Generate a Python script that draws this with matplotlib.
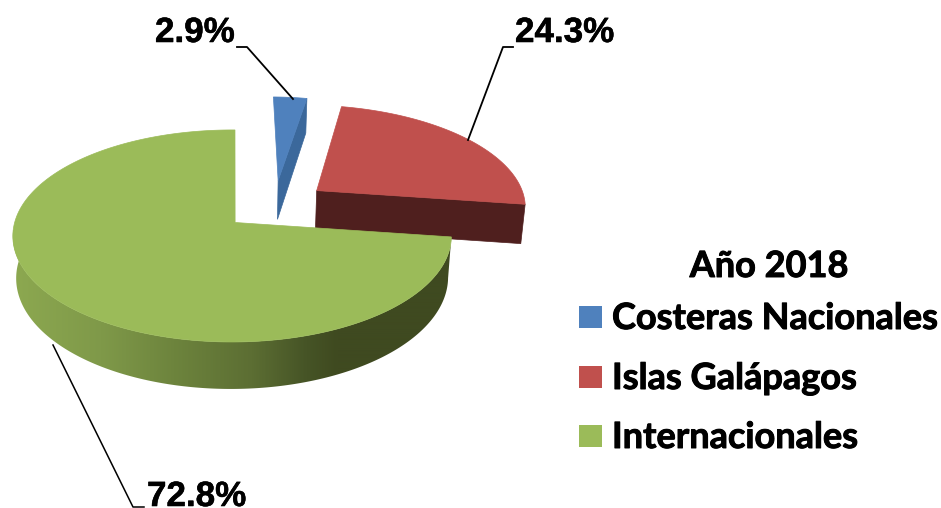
import numpy as np
import matplotlib
matplotlib.use("Agg")
import matplotlib.pyplot as plt
import matplotlib.patheffects as pe
from matplotlib.patches import Polygon
from matplotlib.colors import LinearSegmentedColormap

# --- data ---
categories = ["Costeras Nacionales", "Islas Galápagos", "Internacionales"]
shares = [2.9, 24.3, 72.8]
value_labels = ["2.9%", "24.3%", "72.8%"]
legend_title = "Año 2018"

# --- style ---
top_colors = ["#4F81BD", "#C0504D", "#9BBB59"]
face_colors = ["#3B689B", "#4F1F1E", "#3F4A20"]
offsets = [(0.213, 0.425), (0.395, 0.32), (0.005, 0.0)]
x_scale = [1.0, 1.0, 0.993]
AX, AY, A, B, K, M = 234.0, 222.5, 219.0, 104.3, 0.127, 0.0137
T0, SHRINK = 41.0, 0.985


def top_xy(X, Y):
    w = 1 + K * Y + M * X
    return AX + A * X / w, AY - B * Y / w


def bot_xy(X, Y):
    w = 1 + K * Y + M * X
    sx, sy = top_xy(X, Y)
    return AX + (sx - AX) * SHRINK, sy + T0 / w


fig = plt.figure(figsize=(9.41, 5.08), dpi=100, facecolor="white")
ax = fig.add_axes([0, 0, 1, 1])

# clockwise angles from the values
edges = np.radians(np.cumsum([0] + shares) * 3.6)


def sector(i, n=160):
    th = np.linspace(edges[i], edges[i + 1], n)
    ox, oy = offsets[i]
    X = np.r_[ox, ox + x_scale[i] * np.sin(th)]
    Y = np.r_[oy, oy + np.cos(th)]
    return X, Y


def radial_face(i):
    ox, oy = offsets[i]
    th = edges[i + 1]
    X = np.array([ox, ox + x_scale[i] * np.sin(th)])
    Y = np.array([oy, oy + np.cos(th)])
    tx, ty = top_xy(X, Y)
    bx, by = bot_xy(X, Y)
    ax.fill(np.r_[tx, bx[::-1]], np.r_[ty, by[::-1]], color=face_colors[i], lw=0.5, zorder=2 + i)


# blue and red: radial side, then top
for i in (0, 1):
    radial_face(i)
    sx, sy = top_xy(*sector(i))
    ax.fill(sx, sy, color=top_colors[i], lw=0.5, zorder=2.5 + i)

# green: shaded rim (horizontal gradient clipped to the rim), then top
rim_stops = [15, 101, 174, 252, 307, 338, 470]
rim_hex = ["#8CA850", "#7F9949", "#6D843D", "#5C6E33", "#465426", "#3F4A20", "#3F4A20"]
lo, hi = 0, 470
rim_cmap = LinearSegmentedColormap.from_list(
    "rim", [(0.0, rim_hex[0])] + [((s - lo) / (hi - lo), c) for s, c in zip(rim_stops, rim_hex)],
)
ox, oy = offsets[2]
th = np.linspace(edges[2], np.radians(272), 300)
X, Y = ox + x_scale[2] * np.sin(th), oy + np.cos(th)
tx, ty = top_xy(X, Y)
bx, by = bot_xy(X, Y)
rim = Polygon(np.c_[np.r_[tx, bx[::-1]], np.r_[ty, by[::-1]]], closed=True,
              transform=ax.transData, fc="none", ec="none")
ax.add_patch(rim)
img = ax.imshow(np.linspace(0, 1, 940)[None, :], cmap=rim_cmap, vmin=0, vmax=1, aspect="auto",
                extent=(lo, hi, 400, 230), zorder=5, interpolation="bilinear")
img.set_clip_path(rim)
sx, sy = top_xy(*sector(2, 400))
ax.fill(sx, sy, color=top_colors[2], lw=0.5, zorder=6)

ax.set_xlim(0, 941)
ax.set_ylim(508, 0)
ax.axis("off")

# leaders and value labels
heavy = [pe.withStroke(linewidth=0.4, foreground="black")]
num_font = dict(family="Liberation Sans", fontweight="bold", fontsize=25.2, color="black",
                va="baseline", path_effects=heavy)
ax.plot([237, 247, 293], [47, 47, 99], color="black", lw=1.3, zorder=7)
ax.plot([513, 503, 468], [47, 47, 140], color="black", lw=1.3, zorder=7)
ax.plot([53, 133, 144], [345, 507, 507], color="black", lw=1.1, zorder=4)
ax.text(155, 42, value_labels[0], ha="left", **num_font)
ax.text(515, 42, value_labels[1], ha="left", **num_font)
ax.text(147, 506, value_labels[2], ha="left", **num_font)

# legend
bolder = [pe.withStroke(linewidth=0.7, foreground="black")]
leg_font = dict(family="Lato", fontweight="bold", fontsize=26.0, color="black",
                va="baseline", path_effects=bolder)
ax.text(769, 277, legend_title, ha="center", **leg_font)
for name, c, base in zip(categories, top_colors, [328, 388, 447]):
    ax.fill([579, 602, 602, 579], [base - 22, base - 22, base, base], color=c, lw=0)
    ax.text(612, base + 1, name, ha="left", **leg_font)

fig.savefig("out.png", dpi=100, facecolor="white")
